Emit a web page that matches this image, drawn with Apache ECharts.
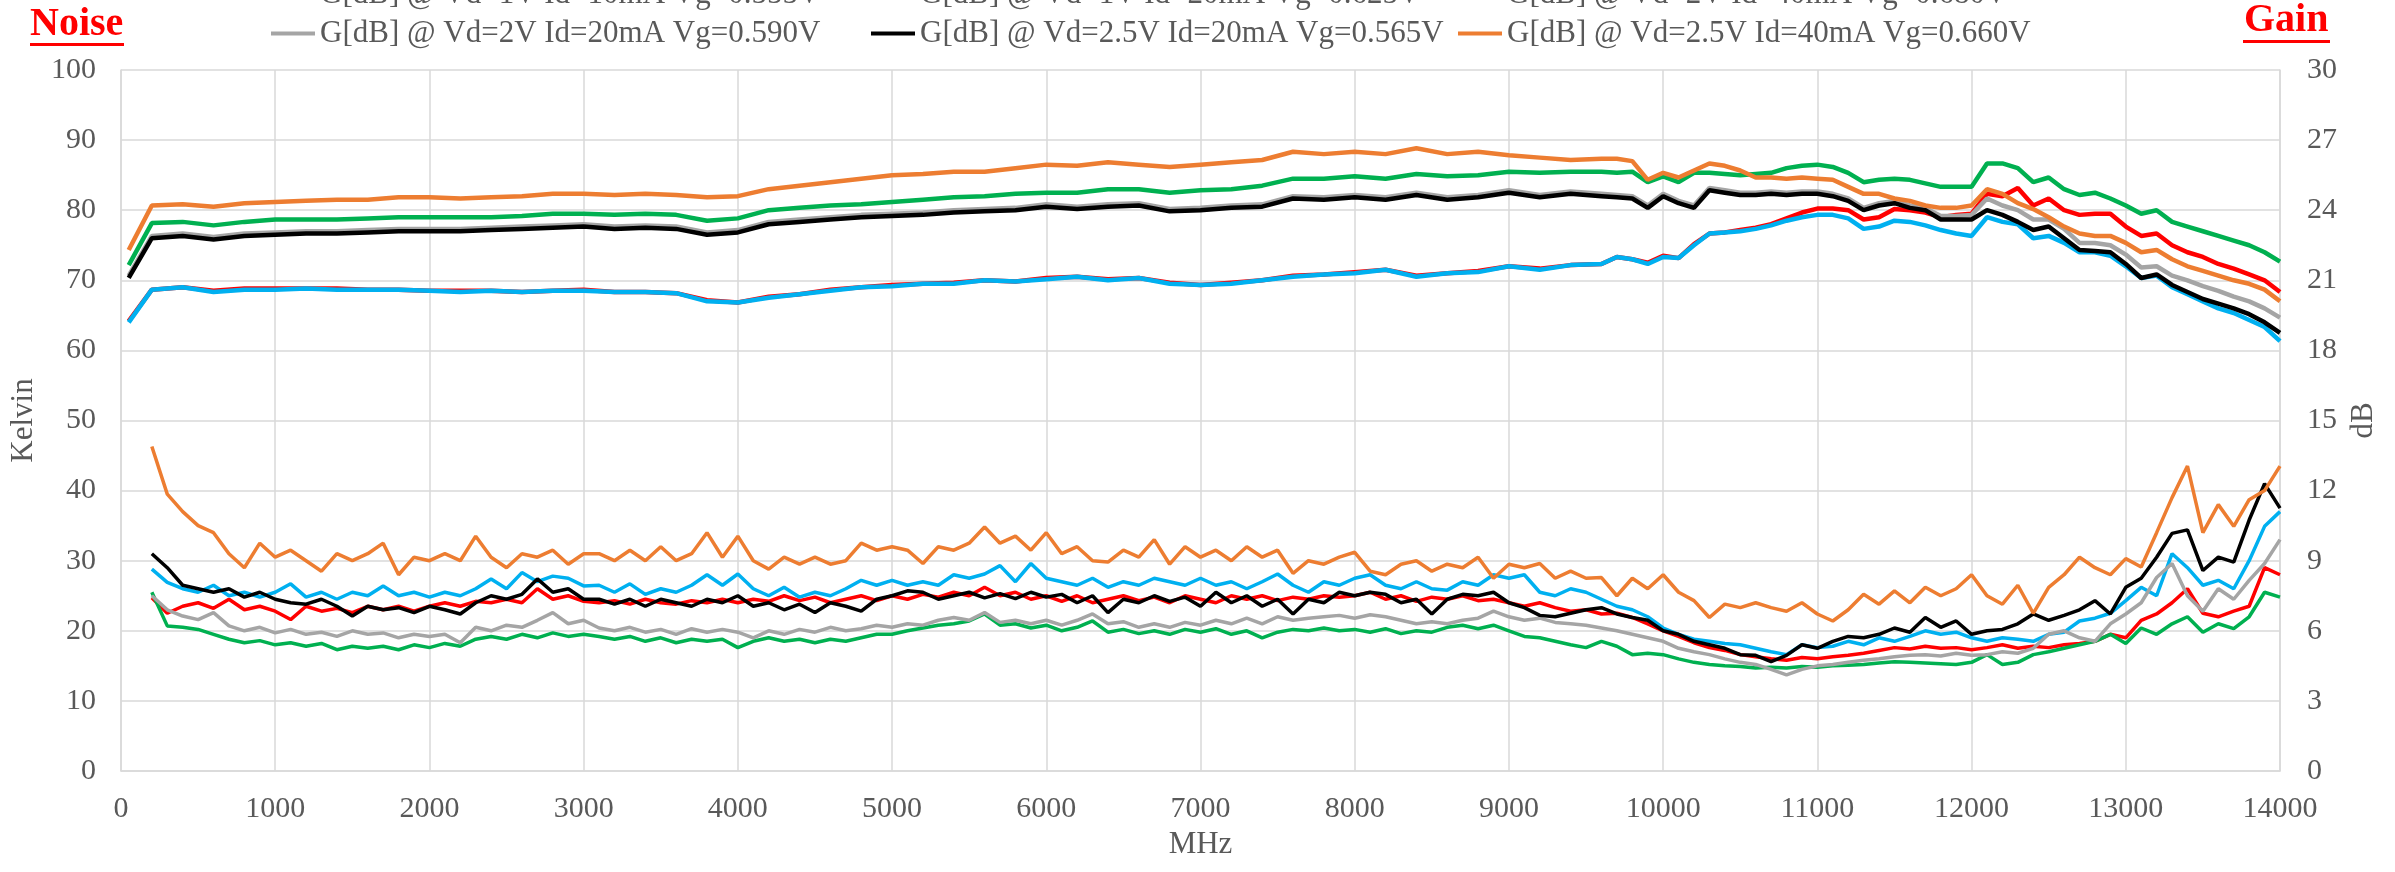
<!DOCTYPE html>
<html>
<head>
<meta charset="utf-8">
<script src="https://cdn.jsdelivr.net/npm/echarts@6/dist/echarts.min.js"></script>
<style>
  html, body { margin: 0; padding: 0; background: #fff; }
  #chart { width: 2395px; height: 872px; }
</style>
</head>
<body>
<div id="chart"></div>
<script>
// sampling grids (MHz)
var noiseFreq = [];
for (var f = 200; f <= 14000; f += 100) noiseFreq.push(f);
var gainFreq = [50];
for (var f2 = 200; f2 <= 9400; f2 += 200) gainFreq.push(f2);
for (var f3 = 9600; f3 <= 14000; f3 += 100) gainFreq.push(f3);

var gainNames = [
    'G[dB] @ Vd=1V Id=10mA Vg=0.555V',
    'G[dB] @ Vd=1V Id=20mA Vg=0.625V',
    'G[dB] @ Vd=2V Id=40mA Vg=0.680V',
    'G[dB] @ Vd=2V Id=20mA Vg=0.590V',
    'G[dB] @ Vd=2.5V Id=20mA Vg=0.565V',
    'G[dB] @ Vd=2.5V Id=40mA Vg=0.660V'
];
var colors = ['#00B0F0', '#FF0000', '#00B050', '#A5A5A5', '#000000', '#ED7D31'];

// noise temperature, Kelvin (200..14000 step 100)
var noiseBlue = [
    28.8, 26.9, 26, 25.5, 26.5, 25, 25.5, 24.8, 25.5, 26.7,
    24.8, 25.5, 24.5, 25.5, 25, 26.4, 25, 25.5, 24.8, 25.5,
    25, 26, 27.4, 26, 28.3, 27, 27.8, 27.5, 26.4, 26.5,
    25.5, 26.7, 25.2, 26, 25.5, 26.5, 28, 26.5, 28.1, 26,
    25, 26.2, 24.8, 25.5, 25, 26, 27.2, 26.5, 27.2, 26.5,
    27, 26.5, 28, 27.5, 28.1, 29.3, 27, 29.6, 27.5, 27,
    26.5, 27.5, 26.2, 27, 26.5, 27.5, 27, 26.5, 27.5, 26.5,
    27, 26, 27, 28.1, 26.5, 25.5, 27, 26.5, 27.5, 28,
    26.5, 26, 27, 26, 25.8, 27, 26.5, 28, 27.5, 28,
    25.5, 25, 26, 25.5, 24.5, 23.5, 23, 22, 20.4, 19.5,
    18.8, 18.5, 18.2, 18, 17.5, 17, 16.6, 18, 17.6, 17.8,
    18.5, 18, 19, 18.5, 19.2, 20, 19.5, 19.8, 19, 18.5,
    19, 18.8, 18.5, 19.5, 19.8, 21.4, 21.8, 22.5, 24.3, 26.2,
    25, 31, 29, 26.5, 27.2, 26, 30, 34.9, 37
];
var noiseRed = [
    24.7, 22.5, 23.5, 24, 23.2, 24.5, 23, 23.5, 22.8, 21.6,
    23.5, 22.8, 23.2, 22.6, 23.5, 23, 23.5, 22.8, 23.5, 24,
    23.5, 24.2, 24, 24.5, 24, 26, 24.5, 25, 24.2, 24,
    24.3, 23.8, 24.5, 24, 23.8, 24.3, 24, 24.5, 24, 24.5,
    24.2, 25, 24.3, 24.8, 24, 24.5, 25, 24.3, 25, 24.5,
    25.2, 24.8, 25.5, 25, 26.2, 25, 25.5, 24.5, 25, 24.2,
    25, 24, 24.5, 25, 24.3, 24.8, 24, 25, 24.5, 24,
    25, 24.5, 25, 24.3, 24.8, 24.5, 25, 24.8, 25, 25.5,
    24.5, 25, 24.2, 24.8, 24.5, 25, 24.3, 24.5, 24, 23.5,
    24, 23.3, 22.8, 23, 22.4, 22.5, 21.9, 21, 20, 19.2,
    18.3, 17.6, 17.2, 16.6, 16.3, 16, 15.8, 16.2, 16, 16.3,
    16.5, 16.8, 17.2, 17.6, 17.4, 17.8, 17.5, 17.6, 17.3, 17.6,
    18, 17.5, 17.8, 17.6, 18, 18.2, 18.5, 19.5, 19, 21.5,
    22.4, 24, 26, 22.5, 22, 22.8, 23.5, 29, 28
];
var noiseGreen = [
    25.5, 20.7, 20.5, 20.2, 19.5, 18.8, 18.3, 18.6, 18, 18.3,
    17.8, 18.2, 17.3, 17.8, 17.5, 17.8, 17.3, 18, 17.6, 18.2,
    17.8, 18.8, 19.2, 18.8, 19.5, 19, 19.7, 19.2, 19.5, 19.2,
    18.8, 19.2, 18.5, 19, 18.3, 18.8, 18.5, 18.8, 17.6, 18.5,
    19, 18.5, 18.8, 18.3, 18.8, 18.5, 19, 19.5, 19.5, 20,
    20.4, 20.8, 21, 21.4, 22.4, 20.8, 21, 20.4, 20.8, 20,
    20.5, 21.4, 19.8, 20.2, 19.6, 20, 19.5, 20.2, 19.8, 20.3,
    19.5, 20, 19, 19.8, 20.2, 20, 20.4, 20, 20.2, 19.8,
    20.3, 19.6, 20, 19.8, 20.5, 20.8, 20.3, 20.8, 20, 19.2,
    19, 18.5, 18, 17.6, 18.5, 17.8, 16.6, 16.8, 16.6, 16,
    15.5, 15.2, 15, 14.9, 14.7, 14.8, 14.7, 14.9, 14.8, 15,
    15.1, 15.2, 15.4, 15.6, 15.5, 15.4, 15.3, 15.2, 15.5, 16.6,
    15.2, 15.5, 16.6, 17, 17.5, 18, 18.5, 19.5, 18.2, 20.4,
    19.5, 21, 22, 19.8, 21, 20.3, 22, 25.5, 24.8
];
var noiseGray = [
    25, 23, 22.1, 21.6, 22.6, 20.7, 20, 20.5, 19.7, 20.2,
    19.5, 19.8, 19.2, 20, 19.5, 19.7, 19, 19.5, 19.2, 19.5,
    18.3, 20.5, 20, 20.8, 20.5, 21.5, 22.6, 21, 21.5, 20.4,
    20, 20.5, 19.8, 20.2, 19.5, 20.3, 19.8, 20.2, 19.8, 19,
    20, 19.5, 20.2, 19.8, 20.5, 20, 20.3, 20.8, 20.5, 21,
    20.8, 21.5, 21.9, 21.5, 22.6, 21.2, 21.5, 21, 21.5, 20.8,
    21.5, 22.4, 21, 21.3, 20.5, 21, 20.5, 21.2, 20.8, 21.5,
    21, 21.8, 21, 22, 21.5, 21.8, 22, 22.2, 21.8, 22.3,
    22, 21.5, 21, 21.3, 21, 21.5, 21.8, 22.8, 22, 21.5,
    21.8, 21.2, 21, 20.8, 20.4, 20, 19.5, 19, 18.5, 17.5,
    17, 16.6, 16, 15.5, 15.2, 14.5, 13.7, 14.5, 15, 15.2,
    15.5, 15.8, 16, 16.3, 16.5, 16.6, 16.4, 16.8, 16.5, 16.6,
    17, 16.8, 17.5, 19.5, 20, 19, 18.5, 21, 22.4, 24,
    27.6, 29.6, 25, 22.8, 26, 24.5, 27.2, 29.6, 33
];
var noiseBlack = [
    31, 29, 26.5, 26, 25.5, 26, 24.8, 25.5, 24.5, 24,
    23.8, 24.5, 23.5, 22.1, 23.5, 23, 23.3, 22.6, 23.5, 23,
    22.4, 24, 25, 24.5, 25.2, 27.4, 25.5, 26, 24.5, 24.5,
    23.8, 24.5, 23.5, 24.5, 24, 23.5, 24.5, 24, 25, 23.5,
    24, 23, 23.8, 22.6, 24, 23.5, 22.8, 24.5, 25, 25.7,
    25.5, 24.5, 25, 25.5, 24.7, 25.3, 24.6, 25.5, 24.8, 25.2,
    24, 25, 22.6, 24.5, 24, 25, 24.2, 24.8, 23.5, 25.5,
    24, 25, 23.5, 24.5, 22.4, 24.5, 24, 25.5, 25, 25.5,
    25.2, 24, 24.5, 22.4, 24.5, 25.2, 25, 25.5, 24, 23.3,
    22.2, 22, 22.5, 23, 23.3, 22.4, 21.9, 21.5, 20, 19.5,
    18.5, 18, 17.5, 16.6, 16.5, 15.6, 16.5, 18, 17.5, 18.5,
    19.2, 19, 19.5, 20.4, 19.8, 21.9, 20.5, 21.4, 19.5, 20,
    20.2, 21, 22.4, 21.5, 22.2, 23, 24.3, 22.4, 26.2, 27.5,
    30.5, 33.9, 34.4, 28.6, 30.5, 29.8, 35.8, 41, 37.5
];
var noiseOrange = [
    46.3, 39.5, 37, 35, 34, 31, 29, 32.5, 30.5, 31.5,
    30, 28.5, 31, 30, 31, 32.5, 28, 30.5, 30, 31,
    30, 33.5, 30.5, 29, 31, 30.5, 31.5, 29.5, 31, 31,
    30, 31.5, 30, 32, 30, 31, 34, 30.5, 33.5, 30,
    28.8, 30.5, 29.5, 30.5, 29.5, 30, 32.5, 31.5, 32, 31.5,
    29.6, 32, 31.5, 32.5, 34.8, 32.5, 33.5, 31.5, 34, 31,
    32, 30, 29.8, 31.5, 30.5, 33, 29.5, 32, 30.5, 31.5,
    30, 32, 30.5, 31.5, 28.2, 30, 29.5, 30.5, 31.2, 28.5,
    28, 29.5, 30, 28.5, 29.5, 29, 30.5, 27.5, 29.5, 29,
    29.6, 27.5, 28.5, 27.5, 27.6, 25, 27.5, 26, 28, 25.5,
    24.3, 21.9, 23.8, 23.3, 24, 23.3, 22.8, 24, 22.4, 21.4,
    23, 25.2, 23.8, 25.7, 24, 26.2, 25, 26, 28, 25,
    23.8, 26.5, 22.5, 26.2, 28, 30.5, 29, 28, 30.3, 29.1,
    34, 39, 43.5, 34, 38, 34.9, 38.7, 40, 43.5
];

// gain, dB (50, 200..9400 step 200, 9600..14000 step 100)
var gainBlue = [
    19.2, 20.6, 20.7, 20.5, 20.6, 20.6, 20.65, 20.6, 20.6, 20.6,
    20.55, 20.5, 20.55, 20.5, 20.55, 20.55, 20.5, 20.5, 20.45, 20.1,
    20.05, 20.25, 20.4, 20.55, 20.7, 20.75, 20.85, 20.85, 21.0, 20.95,
    21.05, 21.15, 21.0, 21.1, 20.85, 20.8, 20.85, 21.0, 21.15, 21.25,
    21.3, 21.45, 21.15, 21.3, 21.35, 21.6, 21.45, 21.65,
    21.7, 22.0, 21.9, 21.7, 22.0, 21.95, 22.5, 23.0, 23.05, 23.1,
    23.2, 23.35, 23.55, 23.7, 23.8, 23.8, 23.65, 23.2, 23.3, 23.55,
    23.5, 23.35, 23.15, 23.0, 22.9, 23.7, 23.5, 23.4, 22.8, 22.9,
    22.6, 22.2, 22.2, 22.05, 21.6, 21.1, 21.2, 20.7, 20.4, 20.1,
    19.8, 19.6, 19.3, 19.0, 18.4
];
var gainRed = [
    19.25, 20.6, 20.7, 20.55, 20.65, 20.65, 20.65, 20.65, 20.6, 20.6,
    20.55, 20.55, 20.55, 20.5, 20.55, 20.6, 20.5, 20.5, 20.45, 20.15,
    20.05, 20.3, 20.4, 20.6, 20.7, 20.8, 20.85, 20.9, 21.0, 20.95,
    21.1, 21.15, 21.05, 21.1, 20.9, 20.8, 20.9, 21.0, 21.2, 21.25,
    21.35, 21.45, 21.2, 21.3, 21.4, 21.6, 21.5, 21.65,
    21.7, 22.0, 21.9, 21.75, 22.05, 21.95, 22.55, 23.0, 23.05, 23.15,
    23.25, 23.4, 23.65, 23.9, 24.07, 24.07, 24.0, 23.6, 23.7, 24.05,
    24.0, 23.9, 23.7, 23.8, 23.85, 24.7, 24.6, 24.95, 24.2, 24.5,
    24.0, 23.8, 23.85, 23.85, 23.3, 22.9, 23.0, 22.5, 22.2, 22.0,
    21.7, 21.5, 21.25, 21.0, 20.5
];
var gainGreen = [
    21.65, 23.45, 23.5, 23.35, 23.5, 23.6, 23.6, 23.6, 23.65, 23.7,
    23.7, 23.7, 23.7, 23.75, 23.85, 23.85, 23.8, 23.85, 23.8, 23.55,
    23.65, 24.0, 24.1, 24.2, 24.25, 24.35, 24.45, 24.55, 24.6, 24.7,
    24.75, 24.75, 24.9, 24.9, 24.75, 24.85, 24.9, 25.05, 25.35, 25.35,
    25.45, 25.35, 25.55, 25.45, 25.5, 25.65, 25.6, 25.65,
    25.65, 25.6, 25.65, 25.2, 25.45, 25.2, 25.6, 25.6, 25.55, 25.5,
    25.55, 25.6, 25.8, 25.9, 25.95, 25.85, 25.6, 25.2, 25.3, 25.35,
    25.3, 25.15, 25.0, 25.0, 25.0, 26.0, 26.0, 25.8, 25.2, 25.4,
    24.9, 24.65, 24.75, 24.5, 24.2, 23.85, 24.0, 23.5, 23.3, 23.1,
    22.9, 22.7, 22.5, 22.2, 21.8
];
var gainGray = [
    21.2, 22.9, 23.0, 22.85, 23.0, 23.05, 23.1, 23.1, 23.15, 23.2,
    23.2, 23.2, 23.25, 23.3, 23.35, 23.4, 23.3, 23.35, 23.3, 23.05,
    23.15, 23.5, 23.6, 23.7, 23.8, 23.85, 23.9, 24.0, 24.05, 24.1,
    24.25, 24.15, 24.25, 24.3, 24.05, 24.1, 24.2, 24.25, 24.6, 24.55,
    24.65, 24.55, 24.75, 24.55, 24.65, 24.85, 24.65, 24.8,
    24.7, 24.65, 24.6, 24.2, 24.7, 24.4, 24.2, 24.95, 24.85, 24.75,
    24.75, 24.8, 24.75, 24.8, 24.8, 24.7, 24.5, 24.1, 24.3, 24.4,
    24.2, 24.1, 23.75, 23.75, 23.8, 24.5, 24.2, 24.0, 23.6, 23.6,
    23.2, 22.6, 22.6, 22.5, 22.1, 21.55, 21.6, 21.2, 21.0, 20.75,
    20.55, 20.3, 20.1, 19.8, 19.4
];
var gainBlack = [
    21.1, 22.8, 22.9, 22.75, 22.9, 22.95, 23.0, 23.0, 23.05, 23.1,
    23.1, 23.1, 23.15, 23.2, 23.25, 23.3, 23.2, 23.25, 23.2, 22.95,
    23.05, 23.4, 23.5, 23.6, 23.7, 23.75, 23.8, 23.9, 23.95, 24.0,
    24.15, 24.05, 24.15, 24.2, 23.95, 24.0, 24.1, 24.15, 24.5, 24.45,
    24.55, 24.45, 24.65, 24.45, 24.55, 24.75, 24.55, 24.7,
    24.6, 24.55, 24.5, 24.1, 24.6, 24.3, 24.1, 24.85, 24.75, 24.65,
    24.65, 24.7, 24.65, 24.7, 24.7, 24.6, 24.4, 24.0, 24.2, 24.3,
    24.1, 24.0, 23.6, 23.6, 23.6, 24.0, 23.8, 23.5, 23.15, 23.3,
    22.8, 22.3, 22.25, 22.2, 21.7, 21.1, 21.25, 20.8, 20.5, 20.2,
    20.0, 19.8, 19.55, 19.2, 18.75
];
var gainOrange = [
    22.3, 24.2, 24.25, 24.15, 24.3, 24.35, 24.4, 24.45, 24.45, 24.55,
    24.55, 24.5, 24.55, 24.6, 24.7, 24.7, 24.65, 24.7, 24.65, 24.55,
    24.6, 24.9, 25.05, 25.2, 25.35, 25.5, 25.55, 25.65, 25.65, 25.8,
    25.95, 25.9, 26.05, 25.95, 25.85, 25.95, 26.05, 26.15, 26.5, 26.4,
    26.5, 26.4, 26.65, 26.4, 26.5, 26.35, 26.25, 26.15,
    26.2, 26.2, 26.1, 25.3, 25.6, 25.4, 25.7, 26.0, 25.9, 25.7,
    25.4, 25.4, 25.35, 25.4, 25.35, 25.3, 25.0, 24.7, 24.7, 24.5,
    24.4, 24.2, 24.1, 24.1, 24.2, 24.9, 24.7, 24.3, 24.05, 23.7,
    23.3, 23.0, 22.9, 22.9, 22.6, 22.2, 22.3, 21.9, 21.6, 21.4,
    21.2, 21.0, 20.85, 20.6, 20.1
];

var noiseData = [noiseBlue, noiseRed, noiseGreen, noiseGray, noiseBlack, noiseOrange];
var gainData = [gainBlue, gainRed, gainGreen, gainGray, gainBlack, gainOrange];

function pairs(xs, ys) {
    return ys.map(function (v, i) { return [xs[i], v]; });
}

var FONT = '"Liberation Serif", "Times New Roman", serif';
var TXT = '#595959';
var GRID_C = '#D9D9D9';

// draw order: red under blue
var order = [1, 0, 2, 3, 4, 5];
var series = [];
order.forEach(function (k) {
    series.push({
        name: gainNames[k].replace('G[dB]', 'T[K]'),
        type: 'line',
        yAxisIndex: 0,
        data: pairs(noiseFreq, noiseData[k]),
        showSymbol: false,
        color: colors[k],
        lineStyle: { width: 3.5, color: colors[k] }
    });
});
order.forEach(function (k) {
    series.push({
        name: gainNames[k],
        type: 'line',
        yAxisIndex: 1,
        data: pairs(gainFreq, gainData[k]),
        showSymbol: false,
        color: colors[k],
        lineStyle: { width: 4.5, color: colors[k] }
    });
});

var colLeft = [271, 871, 1458];
var legends = [0, 1, 2].map(function (c) {
    return {
        orient: 'vertical',
        left: colLeft[c],
        top: -21,
        padding: 0,
        itemGap: 8,
        itemWidth: 44,
        itemHeight: 4,
        icon: 'rect',
        selectedMode: false,
        data: [gainNames[c], gainNames[c + 3]],
        textStyle: { fontFamily: FONT, fontSize: 31, color: TXT }
    };
});

var chart = echarts.init(document.getElementById('chart'));
var option = {
    animation: false,
    backgroundColor: '#fff',
    legend: legends,
    grid: { left: 121, right: 115, top: 70, bottom: 101, containLabel: false },
    xAxis: {
        type: 'value',
        min: 0, max: 14000, interval: 1000,
        name: 'MHz',
        nameLocation: 'middle',
        nameGap: 52,
        nameTextStyle: { fontFamily: FONT, fontSize: 31, color: TXT },
        axisLine: { show: true, lineStyle: { color: GRID_C, width: 1.5 } },
        axisTick: { show: false },
        axisLabel: {
            fontFamily: FONT, fontSize: 30, color: TXT, margin: 23,
            formatter: function (v) { return String(v); }
        },
        splitLine: { show: true, lineStyle: { color: GRID_C, width: 1.5 } }
    },
    yAxis: [
        {
            type: 'value',
            min: 0, max: 100, interval: 10,
            name: 'Kelvin',
            nameLocation: 'middle',
            nameGap: 82,
            nameTextStyle: { fontFamily: FONT, fontSize: 31, color: TXT },
            axisLine: { show: true, lineStyle: { color: GRID_C, width: 1.5 } },
            axisTick: { show: false },
            axisLabel: { fontFamily: FONT, fontSize: 30, color: TXT, margin: 25 },
            splitLine: { show: true, lineStyle: { color: GRID_C, width: 1.5 } }
        },
        {
            type: 'value',
            position: 'right',
            min: 0, max: 30, interval: 3,
            name: 'dB',
            nameLocation: 'middle',
            nameGap: 66,
            nameRotate: 90,
            nameTextStyle: { fontFamily: FONT, fontSize: 31, color: TXT },
            axisLine: { show: true, lineStyle: { color: GRID_C, width: 1.5 } },
            axisTick: { show: false },
            axisLabel: { fontFamily: FONT, fontSize: 30, color: TXT, margin: 27 },
            splitLine: { show: false }
        }
    ],
    graphic: [
        {
            type: 'text', z: 10,
            style: { text: 'Noise', x: 30, y: 25, verticalAlign: 'middle', fill: '#FF0000',
                     font: 'bold 40px "Liberation Serif"' }
        },
        { type: 'rect', z: 10, shape: { x: 30, y: 43, width: 94, height: 3 }, style: { fill: '#FF0000' } },
        {
            type: 'text', z: 10,
            style: { text: 'Gain', x: 2244, y: 21, verticalAlign: 'middle', fill: '#FF0000',
                     font: 'bold 40px "Liberation Serif"' }
        },
        { type: 'rect', z: 10, shape: { x: 2243, y: 40, width: 87, height: 3 }, style: { fill: '#FF0000' } }
    ],
    series: series
};
chart.setOption(option);
</script>
</body>
</html>
